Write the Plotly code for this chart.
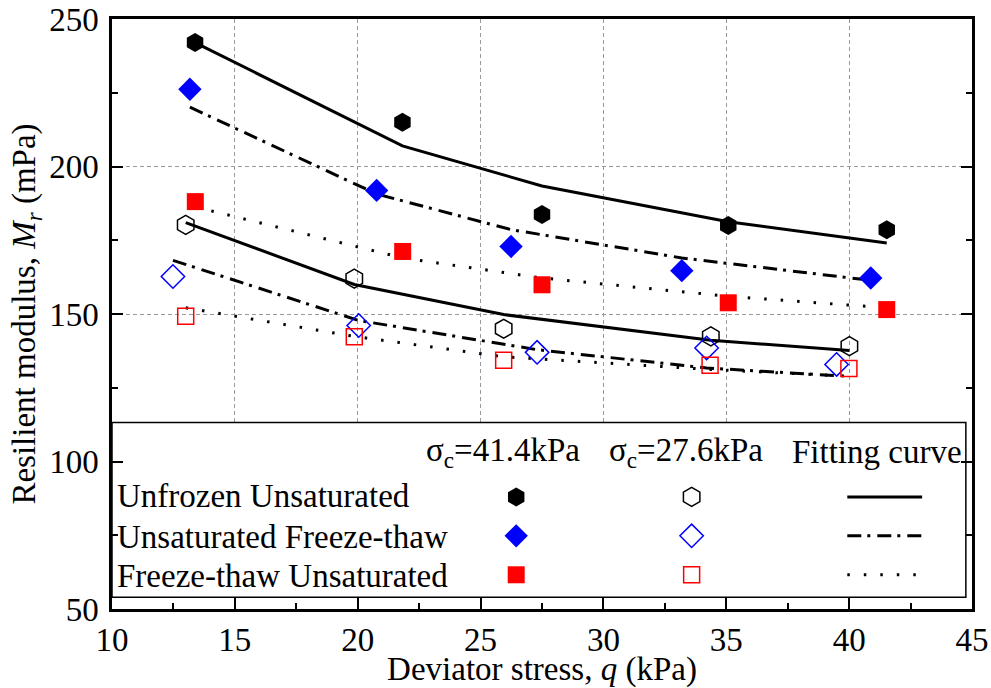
import plotly.graph_objects as go

# ---------------- data ----------------
# sigma_c = 41.4 kPa
q_uu41 = [13.38, 21.82, 27.50, 35.08, 41.53]
m_uu41 = [242.0, 215.0, 183.7, 180.0, 178.6]
q_uf41 = [13.17, 20.77, 26.24, 33.19, 40.88]
m_uf41 = [226.2, 191.9, 172.9, 164.7, 162.2]
q_fu41 = [13.39, 21.83, 27.50, 35.08, 41.53]
m_fu41 = [188.1, 171.2, 159.9, 153.8, 151.5]
# sigma_c = 27.6 kPa
q_uu27 = [13.00, 19.86, 25.94, 34.37, 40.01]
m_uu27 = [180.2, 162.0, 145.0, 142.4, 139.1]
q_uf27 = [12.48, 20.04, 27.30, 34.20, 39.49]
m_uf27 = [162.7, 146.1, 137.0, 138.5, 132.9]
q_fu27 = [13.00, 19.86, 25.94, 34.34, 39.99]
m_fu27 = [149.2, 142.3, 134.3, 132.6, 131.5]
# fitting curves (evaluated at the same q values)
fit_uu41 = [242.0, 207.0, 193.4, 181.3, 174.1]
fit_uf41 = [220.1, 190.7, 178.6, 169.0, 161.4]
fit_fu41 = [186.3, 169.0, 162.2, 156.0, 152.1]
fit_uu27 = [181.0, 160.0, 149.8, 141.1, 137.6]
fit_uf27 = [168.2, 147.8, 137.9, 131.7, 129.1]
fit_fu27 = [152.1, 142.4, 135.5, 131.2, 128.9]

row_labels = ["Unfrozen Unsaturated", "Unsaturated Freeze-thaw", "Freeze-thaw Unsaturated"]
col_labels = ["σ<sub>c</sub>=41.4kPa", "σ<sub>c</sub>=27.6kPa", "Fitting curve"]

FONT = "Liberation Serif"
FS = 33
SOLID = "solid"
DASHDOT = "14px,6px,3px,7px"
DOT = "2.5px,14px"

fig = go.Figure()

def fit(x, y, dash):
    fig.add_trace(go.Scatter(x=x, y=y, mode="lines", showlegend=False, hoverinfo="skip",
                             line=dict(color="black", width=3, dash=dash)))

def pts(x, y, symbol, color, size, filled, xa="x", ya="y"):
    if filled:
        mk = dict(symbol=symbol, color=color, size=size, line=dict(width=0))
    else:
        mk = dict(symbol=symbol + "-open", color=color, size=size, line=dict(color=color, width=1.5))
    fig.add_trace(go.Scatter(x=x, y=y, mode="markers", marker=mk, showlegend=False,
                             hoverinfo="skip", xaxis=xa, yaxis=ya))

fit(q_uu41, fit_uu41, SOLID)
fit(q_uf41, fit_uf41, DASHDOT)
fit(q_fu41, fit_fu41, DOT)
fit(q_uu27, fit_uu27, SOLID)
fit(q_uf27, fit_uf27, DASHDOT)
fit(q_fu27, fit_fu27, DOT)

pts(q_uu41, m_uu41, "hexagon", "black", 19, True)
pts(q_uf41, m_uf41, "diamond", "#0000FF", 18, True)
pts(q_fu41, m_fu41, "square", "#FF0000", 17, True)
pts(q_uu27, m_uu27, "hexagon", "black", 19, False)
pts(q_uf27, m_uf27, "diamond", "#0000FF", 18, False)
pts(q_fu27, m_fu27, "square", "#FF0000", 16, False)

# ---------------- manual legend (overlay axes in 0..1 units) ----------------
row_y = [0.190, 0.124, 0.058]
col_x = [0.470, 0.674]
line_x = [0.855, 0.942]
syms = ["hexagon", "diamond", "square"]
cols = ["black", "#0000FF", "#FF0000"]
sizes_f = [19, 18, 17]
sizes_o = [19, 18, 16]
dashes = [SOLID, DASHDOT, DOT]
for i in range(3):
    pts([col_x[0]], [row_y[i]], syms[i], cols[i], sizes_f[i], True, "x2", "y2")
    pts([col_x[1]], [row_y[i]], syms[i], cols[i], sizes_o[i], False, "x2", "y2")
    fig.add_trace(go.Scatter(x=line_x, y=[row_y[i], row_y[i]], mode="lines", showlegend=False,
                             hoverinfo="skip", xaxis="x2", yaxis="y2",
                             line=dict(color="black", width=3, dash=dashes[i])))

ann = []
head_x = [0.455, 0.668, 0.8895]
for i in range(3):
    ann.append(dict(x=head_x[i], y=0.266, xref="paper", yref="paper", text=col_labels[i],
                    showarrow=False, xanchor="center", yanchor="middle",
                    font=dict(family=FONT, size=FS, color="black")))
lab_y = [0.1915, 0.122, 0.056]
for i in range(3):
    ann.append(dict(x=0.003, y=lab_y[i], xref="paper", yref="paper", text=row_labels[i],
                    showarrow=False, xanchor="left", yanchor="middle",
                    font=dict(family=FONT, size=FS, color="black")))

axis_common = dict(showline=True, linecolor="black", linewidth=2.5, ticks="inside",
                   ticklen=11, tickwidth=2, tickcolor="black", showgrid=True,
                   gridcolor="#9a9a9a", gridwidth=1, griddash="4px,3px", zeroline=False,
                   automargin=False,
                   tickfont=dict(family=FONT, size=FS, color="black"))

fig.update_layout(
    width=991, height=688,
    margin=dict(l=112, r=19, t=19, b=79),
    paper_bgcolor="white", plot_bgcolor="white",
    font=dict(family=FONT, size=FS, color="black"),
    xaxis=dict(range=[10, 45], dtick=5, tick0=10, mirror=True,
               minor=dict(ticks="inside", ticklen=6, tickwidth=1.5, dtick=2.5, tickcolor="black", showgrid=False),
               title=dict(text="Deviator stress, <i>q</i> (kPa)", standoff=2,
                          font=dict(family=FONT, size=FS)),
               **axis_common),
    yaxis=dict(range=[50, 250], dtick=50, tick0=50, mirror="ticks", ticklabelstandoff=4,
               minor=dict(ticks="inside", ticklen=6, tickwidth=1.5, dtick=25, tickcolor="black", showgrid=False),
               title=dict(text="Resilient modulus, <i>M<sub>r</sub></i> (mPa)", standoff=4,
                          font=dict(family=FONT, size=FS)),
               **axis_common),
    xaxis2=dict(overlaying="x", range=[0, 1], visible=False, anchor="y2", automargin=False),
    yaxis2=dict(overlaying="y", range=[0, 1], visible=False, anchor="x2", automargin=False),
    annotations=ann,
    shapes=[dict(type="rect", xref="x", yref="y", x0=10, x1=44.75, y0=54.0, y1=113.2,
                 line=dict(color="black", width=1.5), fillcolor="white", layer="between")],
)

fig.write_html("out.html")
